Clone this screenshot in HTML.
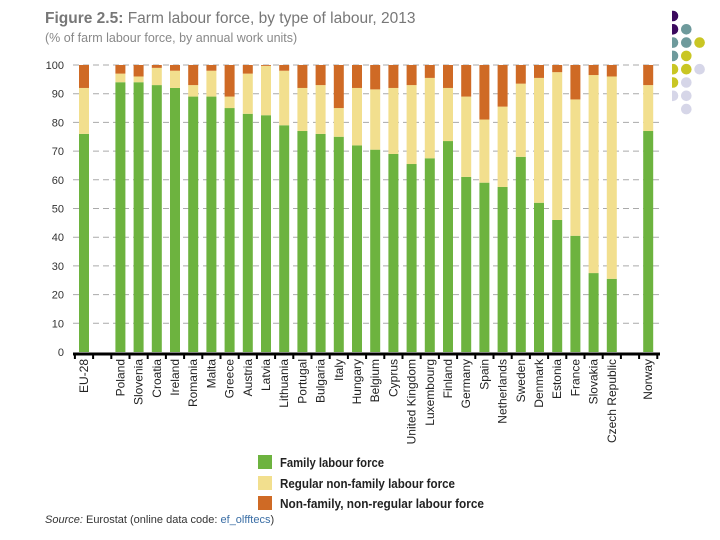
<!DOCTYPE html>
<html><head><meta charset="utf-8"><style>
body{margin:0;background:#fff;width:720px;height:540px;overflow:hidden;font-family:"Liberation Sans",sans-serif}
svg{display:block}
</style></head><body>
<svg id="c" width="720" height="540" xmlns="http://www.w3.org/2000/svg">
<text x="45" y="23" font-size="15.5" fill="#777"><tspan font-weight="bold">Figure 2.5:</tspan> Farm labour force, by type of labour, 2013</text>
<text x="45" y="42" font-size="12.5" fill="#888">(% of farm labour force, by annual work units)</text>
<g id="dots"></g>
<g id="grid"></g><g id="bars"></g><g id="axis"></g>
<g>
<rect x="258" y="455" width="14" height="14" fill="#6db33f"/>
<text x="280" y="467" font-size="13" font-weight="bold" fill="#222" textLength="104" lengthAdjust="spacingAndGlyphs">Family labour force</text>
<rect x="258" y="476" width="14" height="14" fill="#f2df8e"/>
<text x="280" y="488" font-size="13" font-weight="bold" fill="#222" textLength="175" lengthAdjust="spacingAndGlyphs">Regular non-family labour force</text>
<rect x="258" y="496" width="14" height="14" fill="#cf6a25"/>
<text x="280" y="508" font-size="13" font-weight="bold" fill="#222" textLength="204" lengthAdjust="spacingAndGlyphs">Non-family, non-regular labour force</text>
</g>
<text x="45" y="523" font-size="11" fill="#333"><tspan font-style="italic">Source:</tspan> Eurostat (online data code: <tspan fill="#3a6ea5">ef_olfftecs</tspan>)</text>
</svg>
<script>
const categories=["EU-28","","Poland","Slovenia","Croatia","Ireland","Romania","Malta","Greece","Austria","Latvia","Lithuania","Portugal","Bulgaria","Italy","Hungary","Belgium","Cyprus","United Kingdom","Luxembourg","Finland","Germany","Spain","Netherlands","Sweden","Denmark","Estonia","France","Slovakia","Czech Republic","","Norway"];
const family=[76,null,94,94,93,92,89,89,85,83,82.5,79,77,76,75,72,70.5,69,65.5,67.5,73.5,61,59,57.5,68,52,46,40.5,27.5,25.5,null,77];
const regular=[16,null,3,2,6,6,4,9,4,14,17.2,19,15,17,10,20,21,23,27.5,28,18.5,28,22,28,25.5,43.5,51.5,47.5,69,70.5,null,16];
const nonregular=[8,null,3,4,1,2,7,2,11,3,0.3,2,8,7,15,8,8.5,8,7,4.5,8,11,19,14.5,6.5,4.5,2.5,12,3.5,4,null,7];
const yTicks=[0,10,20,30,40,50,60,70,80,90,100];
const NS="http://www.w3.org/2000/svg";
const y0=352,y100=65,x0=84,step=18.2,bw=10;
const y=v=>y0-(y0-y100)*v/100;
const x=i=>x0+i*step;
function mk(t,a,p){const e=document.createElementNS(NS,t);for(const k in a)e.setAttribute(k,a[k]);p.appendChild(e);return e;}
const grid=document.getElementById('grid'),bars=document.getElementById('bars'),axis=document.getElementById('axis');
yTicks.forEach(v=>{
 if(v>0){const l=mk('line',{x1:73,x2:660,y1:y(v),y2:y(v),stroke:'#aaa','stroke-dasharray':'6,4','stroke-width':1},grid);
 
 }
 const t=mk('text',{x:64,y:y(v)+4,'font-size':11,fill:'#333','text-anchor':'end'},grid);
 t.textContent=v;
 
 
});
const cols=['#6db33f','#f2df8e','#cf6a25'];
categories.forEach((c,i)=>{
 if(family[i]==null)return;
 const segs=[family[i],regular[i],nonregular[i]];let acc=0;
 const nm=['family','regular','nonregular'];
 segs.forEach((s,j)=>{
  const r=mk('rect',{x:x(i)-bw/2,y:y(acc+s),width:bw,height:y(acc)-y(acc+s),fill:cols[j]},bars);
  
  
  acc+=s;
 });
 const t=mk('text',{transform:`translate(${x(i)+4},359) rotate(-90)`,'font-size':12,fill:'#222','text-anchor':'end'},axis);
 t.textContent=c;
 
 
});
const ax=mk('line',{x1:73,x2:660,y1:354,y2:354,stroke:'#000','stroke-width':3},axis);


for(let k=0;k<=categories.length;k++){
 const tk=mk('line',{x1:x0-step/2+k*step,x2:x0-step/2+k*step,y1:353,y2:359,stroke:'#000','stroke-width':2},axis);
 
 
}
const dots=document.getElementById('dots');
const P='#3b0a5e',T='#6e9a9c',Y='#c9c624',L='#d6d6e8';
const dotRows=[[P],[P,T],[T,T,Y],[T,Y],[Y,Y,L],[Y,L],[L,L],[null,L]];
const defs=mk('defs',{},dots);const cp=mk('clipPath',{id:'cl'},defs);mk('rect',{x:672,y:0,width:48,height:130},cp);
const dg=mk('g',{'clip-path':'url(#cl)'},dots);
dotRows.forEach((row,r)=>row.forEach((col,k)=>{if(!col)return;
 const d=mk('circle',{cx:673+k*13.3,cy:16+r*13.3,r:5.3,fill:col},dg);
 
 }));
</script>
</body></html>
